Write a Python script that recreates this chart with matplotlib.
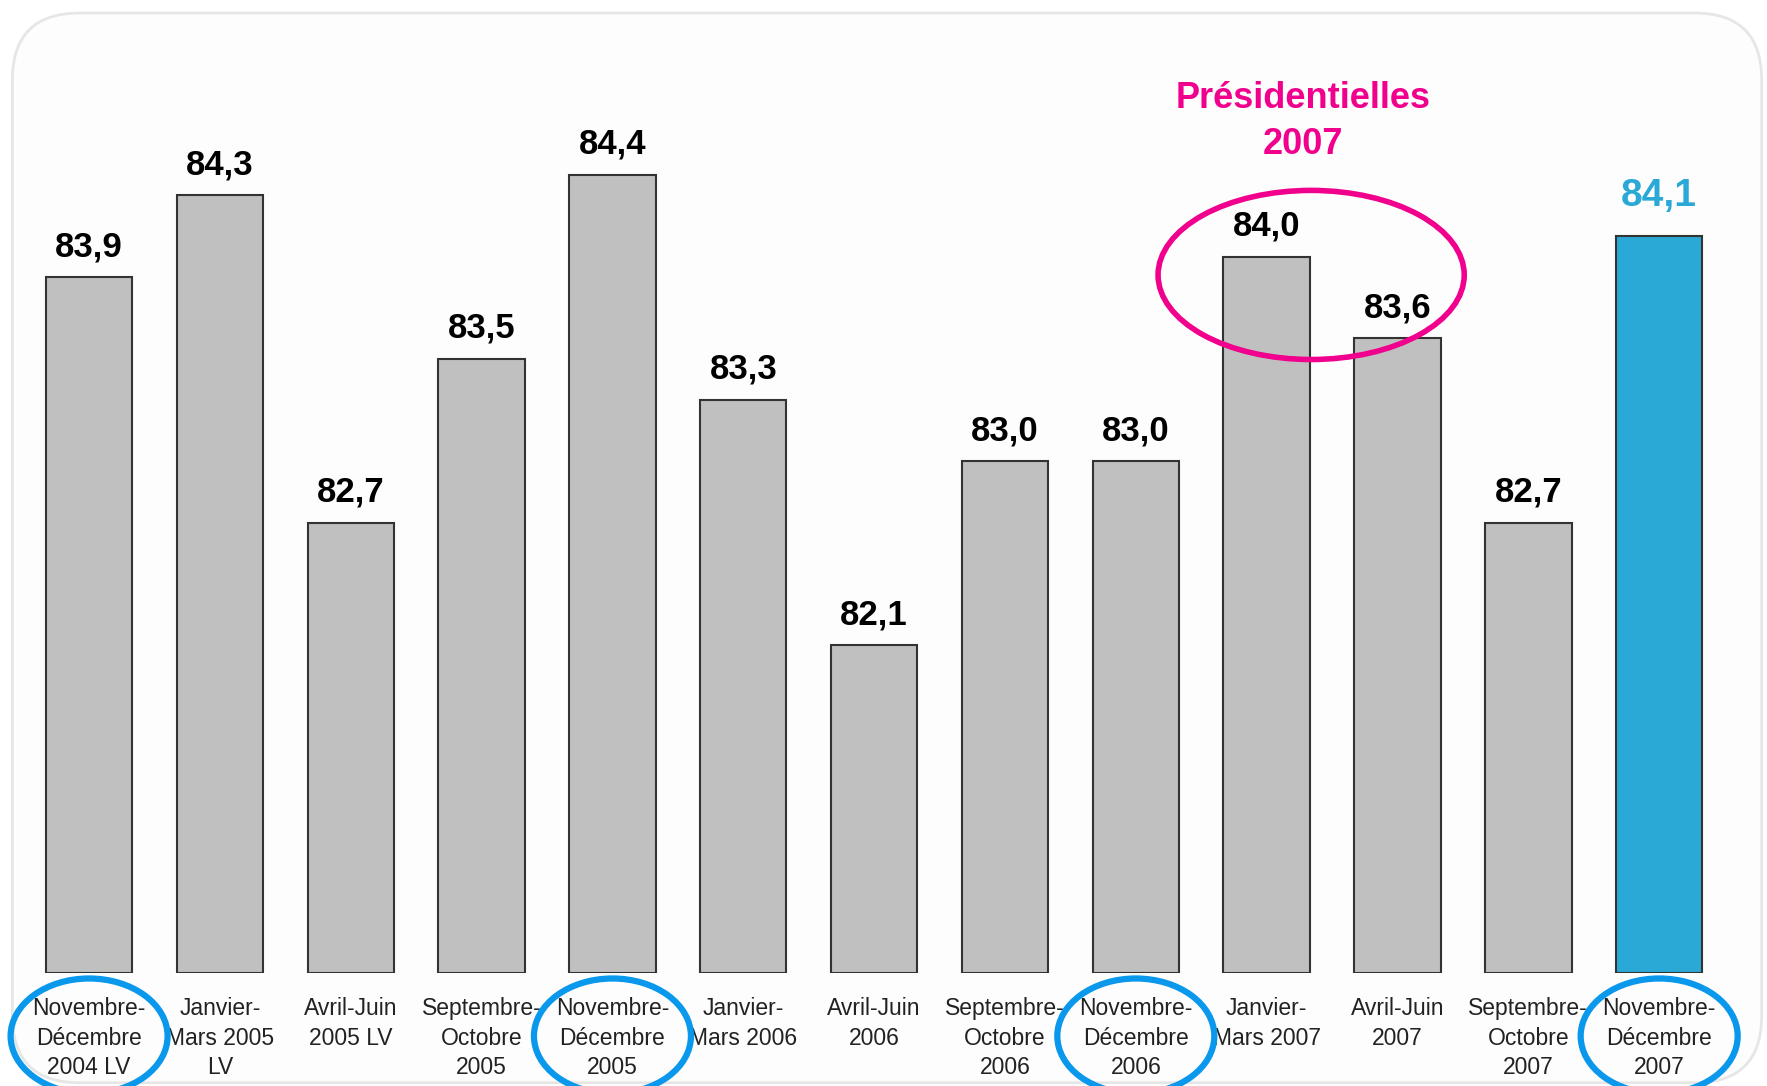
import numpy as np
import matplotlib.pyplot as plt
from matplotlib.patches import Ellipse, FancyBboxPatch
from matplotlib.transforms import blended_transform_factory

plt.rcParams['font.family'] = ['Liberation Sans', 'DejaVu Sans']

# periods and scores
periods = ['Novembre-\nDécembre\n2004 LV', 'Janvier-\nMars 2005\nLV', 'Avril-Juin\n2005 LV',
           'Septembre-\nOctobre\n2005', 'Novembre-\nDécembre\n2005', 'Janvier-\nMars 2006',
           'Avril-Juin\n2006', 'Septembre-\nOctobre\n2006', 'Novembre-\nDécembre\n2006',
           'Janvier-\nMars 2007', 'Avril-Juin\n2007', 'Septembre-\nOctobre\n2007',
           'Novembre-\nDécembre\n2007']
values = [83.9, 84.3, 82.7, 83.5, 84.4, 83.3, 82.1, 83.0, 83.0, 84.0, 83.6, 82.7, 84.1]
circled = [0, 4, 8, 12]
highlight = 12

grey = '#c0c0c0'
blue = '#2aa9d6'
pink = '#f0008c'
ring = '#0a98ec'

fig = plt.figure(figsize=(17.67, 10.86), dpi=100)
fig.patch.set_facecolor('white')

# rounded panel behind the chart
frame = FancyBboxPatch((0.007, 0.003), 0.99, 0.985,
                       boxstyle='round,pad=0,rounding_size=0.038',
                       mutation_aspect=1767 / 1086,
                       transform=fig.transFigure, facecolor='#fdfdfd',
                       edgecolor='#e6e6e6', linewidth=2, zorder=-5)
fig.patches.append(frame)

ax = fig.add_axes([0.0134, 0.104, 0.9626, 0.886])
ax.set_zorder(2)
ax.patch.set_alpha(0)
x = np.arange(len(values))
colors = [blue if i == highlight else grey for i in x]
ax.bar(x, [v - 80.5 for v in values], bottom=80.5, width=0.66, color=colors,
       edgecolor='#333333', linewidth=1.5, zorder=2)

for i, v in enumerate(values):
    if i == highlight:
        ax.annotate(f'{v:.1f}'.replace('.', ','), (i, v), xytext=(0, 16),
                    textcoords='offset points', ha='center', va='bottom',
                    fontsize=28, fontweight='bold', color=blue)
    else:
        ax.annotate(f'{v:.1f}'.replace('.', ','), (i, v), xytext=(0, 10),
                    textcoords='offset points', ha='center', va='bottom',
                    fontsize=25, fontweight='bold', color='black')

ax.set_xlim(-0.5, len(values) - 0.5)
ax.set_ylim(80.5, 85.2)
ax.set_xticks(x)
ax.set_xticklabels(periods, fontsize=16.5, color='#222222', linespacing=1.38)
ax.tick_params(axis='x', length=0, pad=17)
ax.set_yticks([])
for s in ax.spines.values():
    s.set_visible(False)

# election annotation
ax.add_patch(Ellipse((9.34, 83.91), 2.34, 0.826, fill=False, edgecolor=pink,
                     linewidth=4, zorder=3))
ax.text(9.28, 84.66, 'Présidentielles\n2007', ha='center', va='center',
        fontsize=26, fontweight='bold', color=pink, linespacing=1.4)

# rings around the November-December labels
tr = blended_transform_factory(ax.transData, fig.transFigure)
for i in circled:
    ax.add_patch(Ellipse((i, 0.046), 1.2, 0.106, transform=tr, fill=False,
                         edgecolor=ring, linewidth=4.5, clip_on=False, zorder=3))

fig.savefig('out.png', dpi=100)
